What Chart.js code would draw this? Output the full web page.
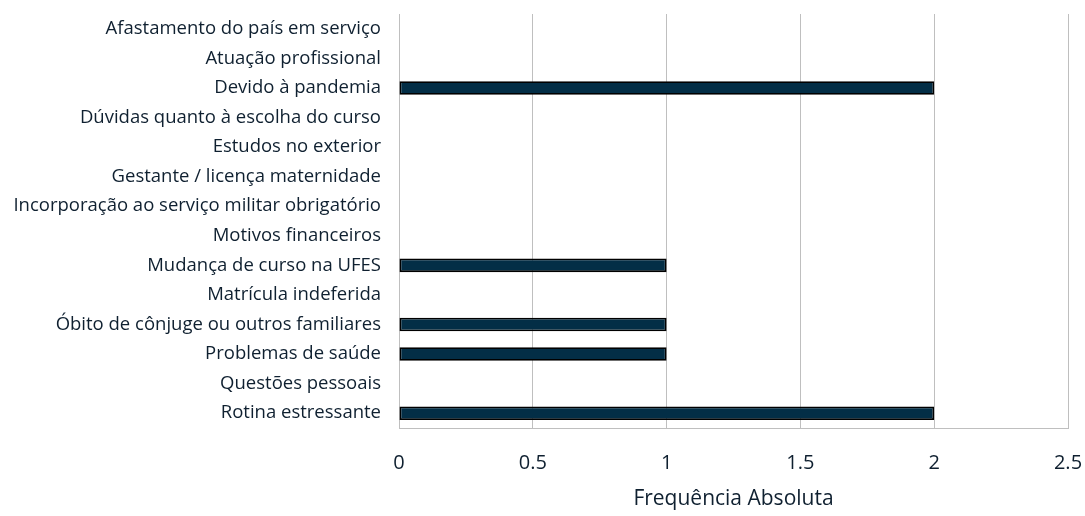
<!DOCTYPE html>
<html><head><meta charset="utf-8">
<script src="https://cdn.jsdelivr.net/npm/chart.js@4.4.0/dist/chart.umd.min.js"></script>
<style>html,body{margin:0;padding:0;background:#fff}#wrap{width:1085px;height:516px}</style>
</head><body><div id="wrap"><canvas id="c" width="1085" height="516"></canvas></div>
<script>
const categories = ["Afastamento do país em serviço","Atuação profissional","Devido à pandemia","Dúvidas quanto à escolha do curso","Estudos no exterior","Gestante / licença maternidade","Incorporação ao serviço militar obrigatório","Motivos financeiros","Mudança de curso na UFES","Matrícula indeferida","Óbito de cônjuge ou outros familiares","Problemas de saúde","Questões pessoais","Rotina estressante"];
const values = [0,0,2,0,0,0,0,0,1,0,1,1,0,2];
const xTicks = [0,0.5,1,1.5,2,2.5];
const axisTitle = "Frequência Absoluta";
const textColor = '#0f2030';
new Chart(document.getElementById('c'), {
  type: 'bar',
  data: { labels: categories, datasets: [{ data: values, backgroundColor: '#032e46', borderColor: '#000000', borderWidth: 1.8, borderSkipped: false, categoryPercentage: 1, barPercentage: 0.46 }] },
  options: {
    indexAxis: 'y', responsive: false, animation: false,
    layout: { padding: { top: 14, right: 17, left: 0, bottom: 0 } },
    plugins: { legend: { display: false }, tooltip: { enabled: false } },
    scales: {
      x: {
        min: 0, max: 2.5,
        afterBuildTicks: s => { s.ticks = xTicks.map(v => ({ value: v })); },
        afterFit: s => { s.height = 88; s.paddingLeft = 0; s.paddingRight = 0; },
        grid: { color: '#bfbfbf', lineWidth: 1, drawTicks: false },
        border: { color: '#bfbfbf' },
        ticks: { color: textColor, font: { family: 'Open Sans', size: 20 }, padding: 23, maxRotation: 0, callback: v => String(v) },
        title: { display: true, text: axisTitle, color: textColor, font: { family: 'Open Sans', size: 21 }, padding: { top: 3 } }
      },
      y: {
        afterFit: s => { s.width = 399; s.paddingTop = 0; s.paddingBottom = 0; },
        grid: { display: false, drawTicks: false },
        border: { color: '#bfbfbf' },
        ticks: { color: textColor, font: { family: 'Open Sans', size: 18.5 }, padding: 18, autoSkip: false }
      }
    }
  }
});
</script></body></html>
